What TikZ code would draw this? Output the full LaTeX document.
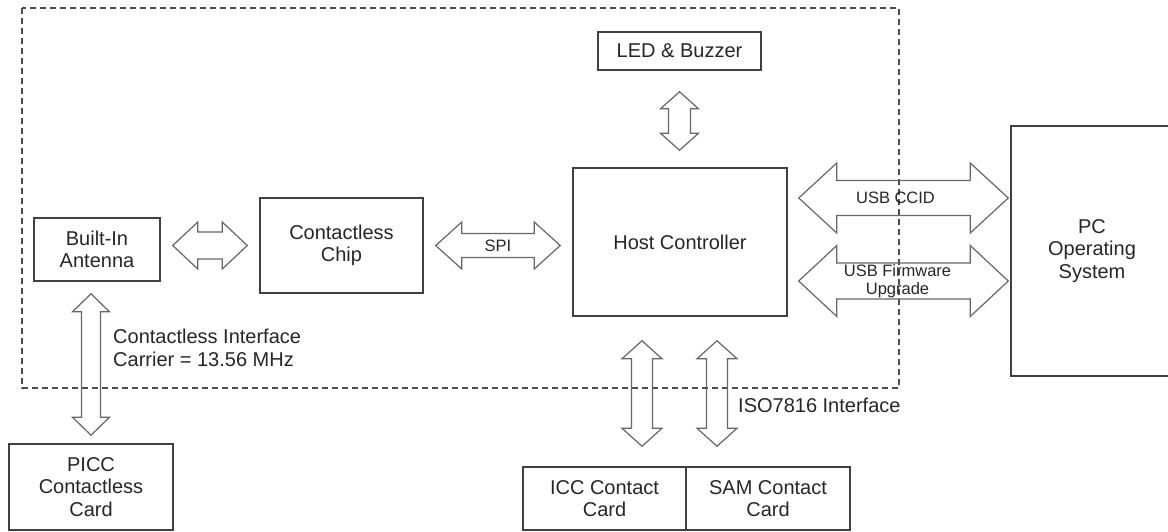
\documentclass[tikz,border=0pt]{standalone}
\usepackage{fontspec}
\setmainfont{Liberation Sans}
\usepackage{xcolor}
\usetikzlibrary{calc}

% double block arrows: tips #1 and #2, half shaft #3, half head #4, head length #5
\newcommand{\harrow}[5]{%
  \draw[blockarrow] let \p1=(#1), \p2=(#2) in
    (\x1,\y1) -- (\x1+#5,\y1+#4) -- (\x1+#5,\y1+#3) -- (\x2-#5,\y1+#3)
    -- (\x2-#5,\y1+#4) -- (\x2,\y1) -- (\x2-#5,\y1-#4) -- (\x2-#5,\y1-#3)
    -- (\x1+#5,\y1-#3) -- (\x1+#5,\y1-#4) -- cycle;}
\newcommand{\varrow}[5]{%
  \draw[blockarrow] let \p1=(#1), \p2=(#2) in
    (\x1,\y1) -- (\x1+#4,\y1-#5) -- (\x1+#3,\y1-#5) -- (\x1+#3,\y2+#5)
    -- (\x1+#4,\y2+#5) -- (\x1,\y2) -- (\x1-#4,\y2+#5) -- (\x1-#3,\y2+#5)
    -- (\x1-#3,\y1-#5) -- (\x1-#4,\y1-#5) -- cycle;}

\begin{document}
\begin{tikzpicture}[x=1pt, y=-1pt,
  box/.style={draw=black!75, line width=1.5pt, align=center, inner sep=0pt,
    text=black!85, font=\fontsize{20}{22.5}\selectfont},
  txt/.style={align=left, inner sep=0pt, text=black!85, font=\fontsize{20}{22.5}\selectfont},
  small/.style={align=center, inner sep=0pt, text=black!85, font=\fontsize{16.5}{18}\selectfont},
  blockarrow/.style={draw=black!60, line width=1.2pt, line join=miter},
  frame/.style={draw=black!70, line width=1.4pt, dash pattern=on 6pt off 4pt}]
\useasboundingbox (0,0) rectangle (1168,531);
\clip (0,0) rectangle (1168,531);
% reader boundary
\draw[frame] (22,8) rectangle (899,388);
% blocks
\node[box, minimum width=163, minimum height=38] (led) at (679.5,51) {LED \& Buzzer};
\node[box, minimum width=214, minimum height=148] (host) at (680,242) {Host Controller};
\node[box, minimum width=126, minimum height=63] (ant) at (97,249.5) {Built-In\\Antenna};
\node[box, minimum width=163, minimum height=95] (chip) at (341.5,245.5) {Contactless\\Chip};
\node[box, minimum width=162, minimum height=250] (pc) at (1092,251) {PC\\Operating\\System};
\node[box, minimum width=164, minimum height=86] (picc) at (91,487) {PICC\\Contactless\\Card};
\node[box, minimum width=163, minimum height=63] (icc) at (604.5,498.5) {ICC Contact\\Card};
\node[box, minimum width=164, minimum height=63] (sam) at (768,498.5) {SAM Contact\\Card};
% arrow ends
\coordinate (a1) at ($(ant.east |- chip.west)+(12,0)$);
\coordinate (a2) at ($(chip.west)+(-12,0)$);
\coordinate (s1) at ($(chip.east)+(12,0)$);
\coordinate (s2) at ($(host.west |- chip.east)+(-12,0)$);
\coordinate (u1) at ($(host.east)+(11,-44)$);
\coordinate (u2) at ($(pc.west |- u1)+(-2,0)$);
\coordinate (f1) at ($(host.east)+(11,39)$);
\coordinate (f2) at ($(pc.west |- f1)+(-2,0)$);
\coordinate (l1) at ($(led.south)+(0,21)$);
\coordinate (l2) at ($(host.north -| l1)+(0,-17)$);
\coordinate (p1) at ($(ant.south -| picc.north)+(0,12)$);
\coordinate (p2) at ($(picc.north)+(0,-8)$);
\coordinate (i1) at ($(host.south)+(-38,24)$);
\coordinate (i2) at ($(icc.north -| i1)+(0,-20)$);
\coordinate (m1) at ($(host.south)+(37,24)$);
\coordinate (m2) at ($(sam.north -| m1)+(0,-20)$);
% block arrows
\harrow{a1}{a2}{13.5}{23.5}{25}
\harrow{s1}{s2}{12}{23.5}{26}
\harrow{u1}{u2}{17.5}{35}{38}
\harrow{f1}{f2}{18}{35.5}{38}
\varrow{l1}{l2}{11}{19}{17}
\varrow{p1}{p2}{9.5}{18.5}{18}
\varrow{i1}{i2}{10.5}{20}{18}
\varrow{m1}{m2}{10.5}{20}{18}
% labels
\node[small] (spi) at ($(s1)!0.5!(s2)$) {SPI};
\node[small] (ccid) at ($(u1)!0.5!(u2)+(-8,0)$) {USB CCID};
\node[small] (fw) at ($(f1)!0.5!(f2)+(-6,0)$) {USB Firmware\\Upgrade};
\node[txt, anchor=west] (cif) at ($(p1)+(22,54)$) {Contactless Interface\\Carrier = 13.56 MHz};
\node[txt, anchor=west] (iso) at ($(m2)+(21,-41)$) {ISO7816 Interface};
\end{tikzpicture}
\end{document}
